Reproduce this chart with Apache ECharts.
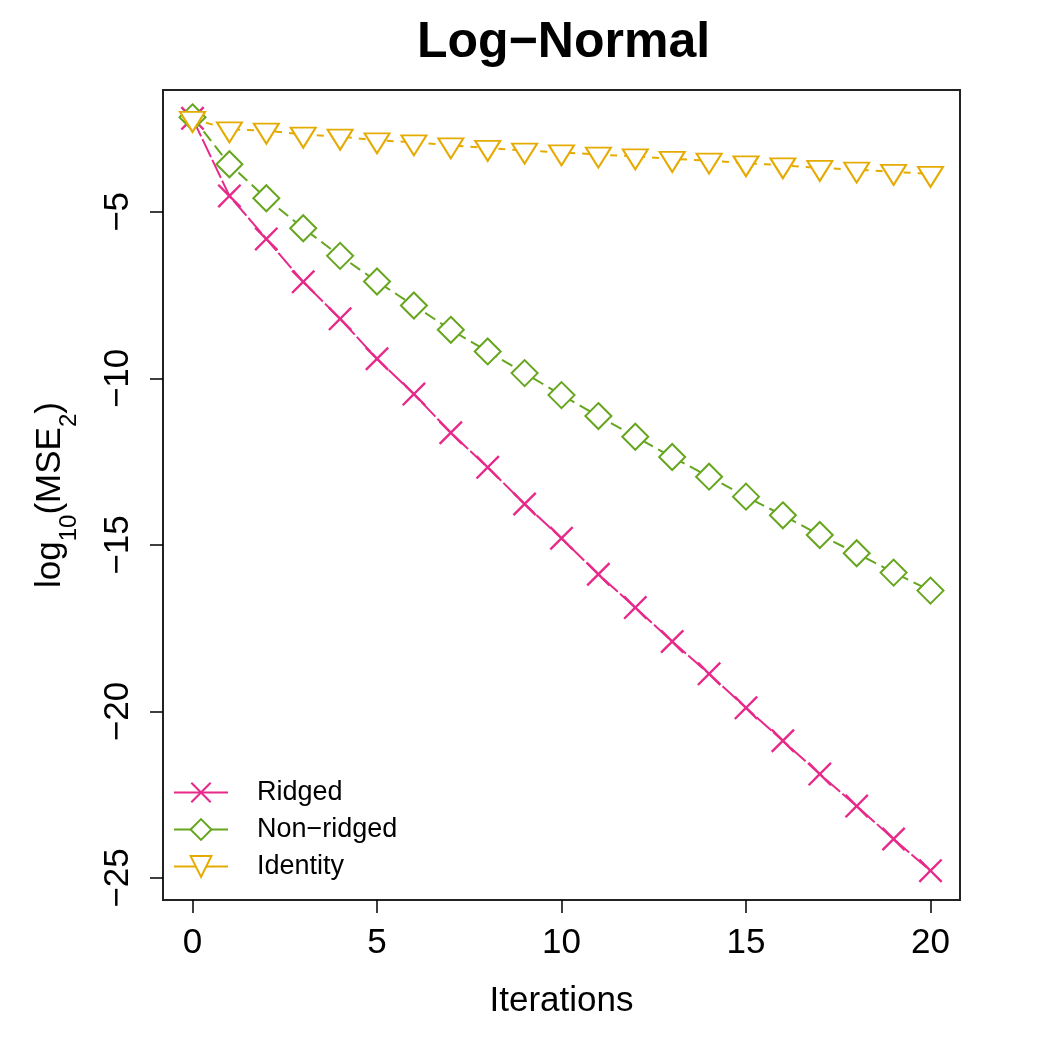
<!DOCTYPE html>
<html>
<head>
<meta charset="utf-8">
<script src="https://cdn.jsdelivr.net/npm/echarts@6/dist/echarts.min.js"></script>
<style>
  html, body { margin: 0; padding: 0; background: #fff; }
  #chart { width: 1050px; height: 1050px; }
</style>
</head>
<body>
<div id="chart"></div>
<script>
// values (log10 of MSE_2 per iteration)
var iterations = [0, 1, 2, 3, 4, 5, 6, 7, 8, 9, 10, 11, 12, 13, 14, 15, 16, 17, 18, 19, 20];
var ridged = [-2.19, -4.52, -5.81, -7.10, -8.21, -9.41, -10.47, -11.63, -12.67, -13.77, -14.80,
              -15.88, -16.88, -17.90, -18.87, -19.89, -20.88, -21.88, -22.84, -23.83, -24.78];
var nonRidged = [-2.16, -3.57, -4.59, -5.49, -6.32, -7.09, -7.81, -8.54, -9.19, -9.84, -10.50,
                 -11.13, -11.75, -12.36, -12.95, -13.55, -14.11, -14.70, -15.25, -15.83, -16.37];
var identity = [-2.21, -2.52, -2.56, -2.68, -2.74, -2.85, -2.91, -3.00, -3.08, -3.16, -3.21,
                -3.28, -3.33, -3.41, -3.46, -3.54, -3.60, -3.68, -3.73, -3.80, -3.86];
var xTicks = [0, 5, 10, 15, 20];
var yTicks = [-25, -20, -15, -10, -5];
var seriesNames = ['Ridged', 'Non\u2212ridged', 'Identity'];

var font = 'Liberation Sans, Helvetica, Arial, sans-serif';
var crossPath = 'path://M0,7 L7,0 L50,43 L93,0 L100,7 L57,50 L100,93 L93,100 L50,57 L7,100 L0,93 L43,50 Z';

function pairs(ys) {
    return iterations.map(function (x, i) { return [x, ys[i]]; });
}

var chart = echarts.init(document.getElementById('chart'));

var option = {
    backgroundColor: '#fff',
    animation: false,
    title: {
        text: 'Log\u2212Normal',
        left: 417,
        top: 18,
        padding: 0,
        textStyle: { fontFamily: font, fontSize: 50, fontWeight: 'bold', color: '#000' }
    },
    legend: {
        orient: 'vertical',
        left: 173,
        top: 779,
        itemWidth: 54,
        itemHeight: 26,
        itemGap: 10,
        padding: 0,
        data: seriesNames,
        lineStyle: { type: 'solid' },
        textStyle: { fontFamily: font, fontSize: 27, color: '#000', padding: [0, 0, 0, 24] }
    },
    grid: {
        left: 163, top: 90, width: 797, height: 810,
        show: true, borderColor: '#222', borderWidth: 2, backgroundColor: 'transparent'
    },
    xAxis: {
        type: 'value',
        min: -0.8,
        max: 20.8,
        name: 'Iterations',
        nameLocation: 'middle',
        nameGap: 84,
        nameTextStyle: { fontFamily: font, fontSize: 35, color: '#000' },
        axisLine: { show: false, onZero: false },
        splitLine: { show: false },
        axisTick: { show: true, customValues: xTicks, length: 13, lineStyle: { color: '#000', width: 1.5 } },
        axisLabel: { customValues: xTicks, margin: 26, fontFamily: font, fontSize: 35, color: '#000' }
    },
    yAxis: {
        type: 'value',
        min: -25.66,
        max: -1.34,
        name: '{a|log}{s|10}{a|(MSE}{s|2}{a|)}',
        nameLocation: 'middle',
        nameRotate: 90,
        nameGap: 82,
        nameTextStyle: {
            rich: {
                a: { fontFamily: font, fontSize: 35, color: '#000', lineHeight: 40, verticalAlign: 'top' },
                s: { fontFamily: font, fontSize: 24, color: '#000', lineHeight: 48, verticalAlign: 'bottom' }
            }
        },
        axisLine: { show: false, onZero: false },
        splitLine: { show: false },
        axisTick: { show: true, customValues: yTicks, length: 13, lineStyle: { color: '#000', width: 1.5 } },
        axisLabel: {
            customValues: yTicks,
            rotate: 90,
            margin: 27,
            fontFamily: font,
            fontSize: 35,
            color: '#000',
            formatter: function (v) { return String(v).replace('-', '\u2212'); }
        }
    },
    series: [
        {
            name: seriesNames[0],
            type: 'line',
            data: pairs(ridged),
            symbol: crossPath,
            symbolSize: 24,
            z: 2,
            lineStyle: { color: '#E7298A', width: 2, type: [20, 3] },
            itemStyle: { color: '#E7298A' }
        },
        {
            name: seriesNames[1],
            type: 'line',
            data: pairs(nonRidged),
            symbol: 'emptyDiamond',
            symbolSize: 26,
            z: 3,
            lineStyle: { color: '#66A61E', width: 2, type: [12, 6] },
            itemStyle: { color: '#66A61E', borderWidth: 2.2 }
        },
        {
            name: seriesNames[2],
            type: 'line',
            data: pairs(identity),
            symbol: 'emptyTriangle',
            symbolRotate: 180,
            symbolSize: [25, 20],
            symbolOffset: [0, 3],
            z: 4,
            lineStyle: { color: '#E6AB02', width: 2, type: [7, 7] },
            itemStyle: { color: '#E6AB02', borderWidth: 2.2 }
        }
    ]
};

chart.setOption(option);
</script>
</body>
</html>
